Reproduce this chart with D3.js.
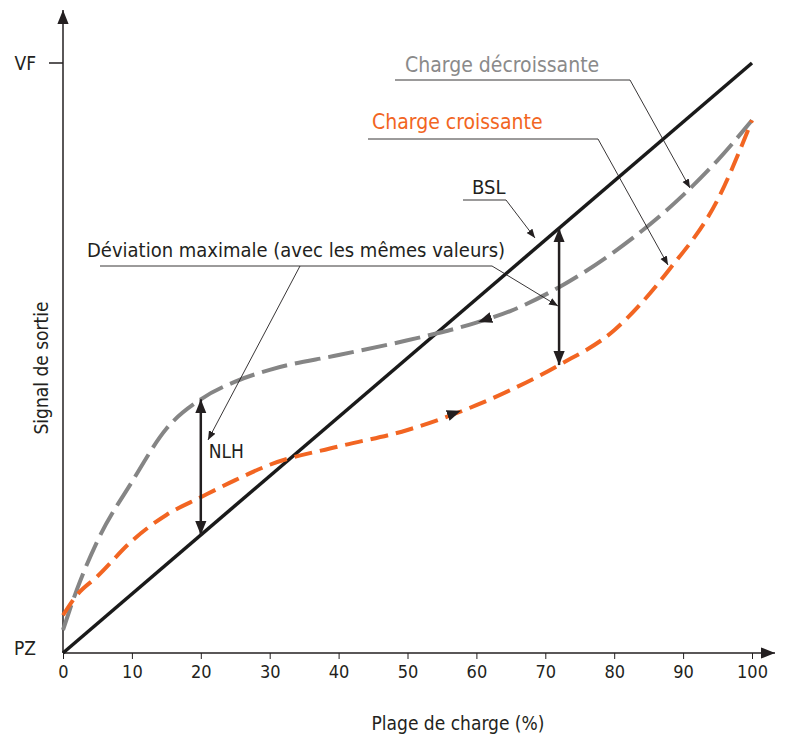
<!DOCTYPE html>
<html><head><meta charset="utf-8">
<script src="https://cdn.jsdelivr.net/npm/d3@7"></script>
<style>body{margin:0;background:#fff}text{font-family:"Liberation Sans Narrow","DejaVu Sans Condensed",sans-serif;fill:#231f20}</style>
</head><body><svg id="c" width="788" height="754"></svg>
<script>
var xTicks = [0,10,20,30,40,50,60,70,80,90,100];
var loadX = [0,2,5,10,15,20,25,30,40,50,60,65,72,80,90,95,100];
var decreasing = [3.9,10.7,19,29,38,43,46,48,50.5,53,56,58,62,68,77.6,83.5,90.3];
var incX = [0,2,5,10,15,20,25,30,40,50,60,65,72,80,88,95,100];
var increasing = [6.4,9.8,13,19,23.4,26.4,29.3,31.9,35,37.8,42,44.6,48.8,54.7,65,76.8,90.3];
var bsl = [[0,0],[100,100]];

var svg = d3.select("#c");
var x = d3.scaleLinear().domain([0,100]).range([63,752]);
var y = d3.scaleLinear().domain([0,100]).range([653,63]);
var defs = svg.append("defs");
function marker(id,size){
  defs.append("marker").attr("id",id).attr("viewBox","0 0 10 10").attr("refX",10).attr("refY",5)
    .attr("markerWidth",size).attr("markerHeight",size).attr("markerUnits","userSpaceOnUse").attr("orient","auto-start-reverse")
    .append("path").attr("d","M0,1 L10,5 L0,9 Z").attr("fill","#231f20");
}
marker("big",14); marker("small",9);

// axes
svg.append("line").attr("x1",x(0)).attr("x2",775).attr("y1",y(0)).attr("y2",y(0)).attr("stroke","#231f20").attr("stroke-width",1.5).attr("marker-end","url(#big)");
svg.append("line").attr("x1",x(0)).attr("x2",x(0)).attr("y1",y(0)).attr("y2",10).attr("stroke","#231f20").attr("stroke-width",1.5).attr("marker-end","url(#big)");
var xa = svg.append("g").attr("transform","translate(0,"+y(0)+")").call(d3.axisBottom(x).tickValues(xTicks).tickSize(6).tickPadding(6));
xa.select(".domain").remove();
xa.selectAll("line").attr("stroke","#231f20");
xa.selectAll("text").attr("font-size",18).style("font-family",null);
svg.append("line").attr("x1",x(0)-14).attr("x2",x(0)).attr("y1",y(100)).attr("y2",y(100)).attr("stroke","#231f20").attr("stroke-width",1.5);
svg.append("text").attr("x",36).attr("y",y(100)+7).attr("text-anchor","end").attr("font-size",19).text("VF");
svg.append("text").attr("x",36).attr("y",y(0)+2).attr("text-anchor","end").attr("font-size",19).text("PZ");
svg.append("text").attr("x",458).attr("y",730).attr("text-anchor","middle").attr("font-size",19).text("Plage de charge (%)");
svg.append("text").attr("transform","translate(48,"+((y(0)+y(100))/2+10)+") rotate(-90)").attr("text-anchor","middle").attr("font-size",19).text("Signal de sortie");

var line = d3.line().x(function(d){return x(d[0]);}).y(function(d){return y(d[1]);}).curve(d3.curveMonotoneX);
svg.append("path").attr("d",line(bsl)).attr("fill","none").attr("stroke","#1a1a1a").attr("stroke-width",3.5);
svg.append("path").attr("d",line(d3.zip(loadX,decreasing))).attr("fill","none").attr("stroke","#858585").attr("stroke-width",4).attr("stroke-dasharray","26,8");
svg.append("path").attr("d",line(d3.zip(incX,increasing))).attr("fill","none").attr("stroke","#f26522").attr("stroke-width",4).attr("stroke-dasharray","18,8");

// direction arrows on the curves
function dirArrow(xs,ys,xv,left){
  var i = d3.bisectLeft(xs,xv), t=(xv-xs[i-1])/(xs[i]-xs[i-1]);
  var yv = ys[i-1]+t*(ys[i]-ys[i-1]);
  var slope = (y(ys[i])-y(ys[i-1]))/(x(xs[i])-x(xs[i-1]));
  var dx = left?-12:12, dy = slope*dx;
  svg.append("path").attr("d","M"+(x(xv)-dx*0.2)+","+(y(yv)-dy*0.2)+"L"+(x(xv)+dx)+","+(y(yv)+dy)).attr("stroke","#231f20").attr("stroke-width",0.1).attr("marker-end","url(#big)");
}
dirArrow(loadX,decreasing,62,true);
dirArrow(incX,increasing,56,false);

// NLH and deviation double arrows
function dbl(xv,y1,y2){
  svg.append("line").attr("x1",x(xv)).attr("x2",x(xv)).attr("y1",y(y1)).attr("y2",y(y2)).attr("stroke","#231f20").attr("stroke-width",2.5)
    .attr("marker-start","url(#big)").attr("marker-end","url(#big)");
}
dbl(20,43,20);
dbl(72,72,48.8);
svg.append("text").attr("x",x(20)+8).attr("y",458).attr("font-size",19).text("NLH");

// leader lines
function leader(pts){
  svg.append("path").attr("d",d3.line()(pts)).attr("fill","none").attr("stroke","#231f20").attr("stroke-width",0.9).attr("marker-end","url(#small)");
}
svg.append("text").attr("x",405).attr("y",72).attr("font-size",21).style("fill","#8a8a8a").text("Charge décroissante");
leader([[395,80],[630,80],[690,188]]);
svg.append("text").attr("x",372).attr("y",129).attr("font-size",21).style("fill","#f26522").text("Charge croissante");
leader([[368,139],[598,139],[668,265]]);
svg.append("text").attr("x",472).attr("y",194).attr("font-size",20).text("BSL");
leader([[463,200],[506,200],[535,238]]);
svg.append("text").attr("x",87).attr("y",257).attr("font-size",20).text("Déviation maximale (avec les mêmes valeurs)");
leader([[100,266],[492,266],[558,306]]);
leader([[300,266],[208,440]]);
</script></body></html>
